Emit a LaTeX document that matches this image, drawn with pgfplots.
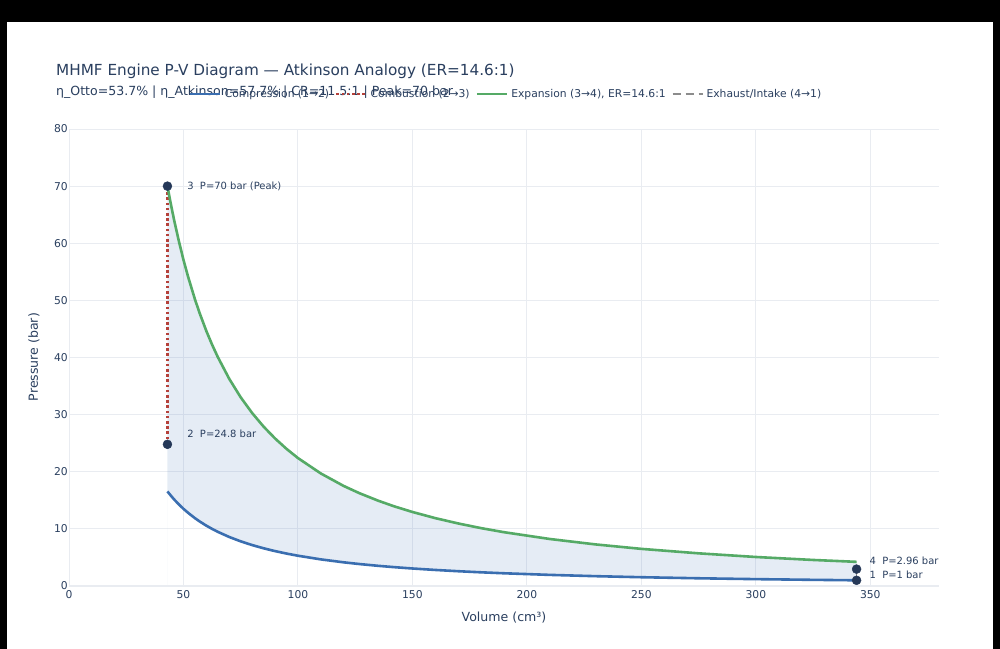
\documentclass[border=0pt]{standalone}
\usepackage{fontspec}
\setmainfont{DejaVu Sans}
\usepackage{pgfplots}
\pgfplotsset{compat=1.18}
\definecolor{txt}{HTML}{2A3F5F}
\definecolor{gridc}{HTML}{E9ECF1}
\definecolor{cblue}{HTML}{3A6EB0}
\definecolor{cred}{HTML}{B5413A}
\definecolor{cgreen}{HTML}{55AA66}
\definecolor{cgray}{HTML}{8C8C8C}
\definecolor{cnavy}{HTML}{253858}
\definecolor{cfill}{HTML}{3C6EB4}

\pgfplotstableread{
V P
43 16.56
44 16.06
45 15.58
46 15.12
48 14.28
50 13.51
52 12.82
55 11.88
57 11.32
60 10.56
62.5 9.998
65 9.483
70 8.580
75 7.817
80 7.165
85 6.602
90 6.111
95 5.681
100 5.301
110 4.661
120 4.144
127 3.839
135 3.535
142 3.302
150 3.066
160 2.811
170 2.590
180 2.397
190 2.229
210 1.947
230 1.722
250 1.539
275 1.353
300 1.203
325 1.080
344 1.000
}\compression

\pgfplotstableread{
V P
43 70.00
44 67.87
45 65.84
46 63.90
48 60.35
50 57.09
52 54.16
55 50.20
57 47.84
60 44.63
62.5 42.25
65 40.08
70 36.26
75 33.03
80 30.28
85 27.90
90 25.83
95 24.01
100 22.40
110 19.70
120 17.51
127 16.22
135 14.94
142 13.95
150 12.96
160 11.88
170 10.95
180 10.13
190 9.42
210 8.23
230 7.28
250 6.50
275 5.72
300 5.08
325 4.56
344 4.23
}\expansion

\begin{document}
\begin{tikzpicture}
\useasboundingbox (0,0) rectangle (1000bp,-649bp);
\fill[black] (0,0) rectangle (1000bp,-649bp);
\fill[white] (7bp,-22bp) rectangle (993bp,-649bp);
\node[anchor=base west, inner sep=0, text=txt, font=\fontsize{15.3}{18}\selectfont] at (56bp,-75.5bp) {MHMF Engine P-V Diagram — Atkinson Analogy (ER=14.6:1)};
\node[anchor=base west, inner sep=0, text=txt, font=\fontsize{12.6}{15}\selectfont] at (56bp,-95.8bp) {η\_Otto=53.7\% | η\_Atkinson=57.7\% | CR=11.5:1 | Peak=70 bar};
\begin{axis}[
  at={(69bp,-586bp)}, anchor=south west, scale only axis,
  width=870bp, height=457bp,
  xmin=0, xmax=380, ymin=0, ymax=80,
  xtick={0,50,...,350}, ytick={0,10,...,80},
  grid=major, major grid style={draw=gridc, line width=1bp},
  axis line style={draw=none}, major tick length=0,
  ticklabel style={font=\fontsize{10.8}{13}\selectfont, text=txt},
  /pgf/number format/assume math mode=true,
  xticklabel style={anchor=north, inner sep=0pt, yshift=-4bp},
  yticklabel style={anchor=east, inner sep=0pt, xshift=-1bp},
  xlabel={Volume (cm³)}, ylabel={Pressure (bar)},
  xlabel style={at={(axis description cs:0.5,-0.070)}, anchor=center, font=\fontsize{12.6}{15}\selectfont, text=txt},
  ylabel style={at={(axis description cs:-0.0402,0.501)}, anchor=center, font=\fontsize{12.6}{15}\selectfont, text=txt},
  legend columns=4,
  legend style={at={(0.1379,1.0766)}, anchor=west, draw=none, fill=none, inner sep=0pt,
    font=\fontsize{10.8}{13}\selectfont, text=txt,
    nodes={inner sep=0pt},
    /tikz/every odd column/.append style={column sep=3bp},
    /tikz/every even column/.append style={column sep=6bp}},
  legend image code/.code={\draw[#1] (0bp,0bp) -- (30bp,0bp);},
]
% shaded cycle area: expansion curve forward, compression curve backward
\addplot[forget plot, draw=none, fill=cfill, fill opacity=0.13] coordinates {
(43,70.00) (44,67.87) (45,65.84) (46,63.90) (48,60.35) (50,57.09) (52,54.16) (55,50.20) (57,47.84) (60,44.63) (62.5,42.25) (65,40.08) (70,36.26) (75,33.03) (80,30.28) (85,27.90) (90,25.83) (95,24.01) (100,22.40) (110,19.70) (120,17.51) (127,16.22) (135,14.94) (142,13.95) (150,12.96) (160,11.88) (170,10.95) (180,10.13) (190,9.42) (210,8.23) (230,7.28) (250,6.50) (275,5.72) (300,5.08) (325,4.56) (344,4.23)
(344,1.000) (325,1.080) (300,1.203) (275,1.353) (250,1.539) (230,1.722) (210,1.947) (190,2.229) (180,2.397) (170,2.590) (160,2.811) (150,3.066) (142,3.302) (135,3.535) (127,3.839) (120,4.144) (110,4.661) (100,5.301) (95,5.681) (90,6.111) (85,6.602) (80,7.165) (75,7.817) (70,8.580) (65,9.483) (62.5,9.998) (60,10.56) (57,11.32) (55,11.88) (52,12.82) (50,13.51) (48,14.28) (46,15.12) (45,15.58) (44,16.06) (43,16.56)} \closedcycle;
\draw[gridc, line width=2bp] (axis cs:0,0) -- (axis cs:380,0);
\draw[gridc, line width=2bp] (axis cs:0,0) -- (axis cs:0,80);
\addplot[cblue, line width=2.6bp, line join=round] table[x=V,y=P] {\compression};
\addlegendentry{Compression (1→2)}
\addplot[cred, line width=2.6bp, dash pattern=on 2.6bp off 2.6bp] coordinates {(43,24.8) (43,70)};
\addlegendentry{Combustion (2→3)}
\addplot[cgreen, line width=2.6bp, line join=round] table[x=V,y=P] {\expansion};
\addlegendentry{Expansion (3→4), ER=14.6:1}
\addplot[cgray, line width=1.8bp, dash pattern=on 8bp off 5bp] coordinates {(344,2.96) (344,1)};
\addlegendentry{Exhaust/Intake (4→1)}
\addplot[forget plot, only marks, mark=*, mark size=4.5bp, mark options={fill=cnavy, draw=cnavy}] coordinates {(43,70) (43,24.8) (344,2.96) (344,1)};
\node[anchor=west, inner sep=0, text=txt, font=\fontsize{10}{12}\selectfont] at (axis cs:51.6,70) {3\ \ P=70 bar (Peak)};
\node[anchor=west, inner sep=0, text=txt, font=\fontsize{10}{12}\selectfont] at (axis cs:51.6,26.7) {2\ \ P=24.8 bar};
\node[anchor=west, inner sep=0, text=txt, font=\fontsize{10}{12}\selectfont] at (axis cs:349.6,4.38) {4\ \ P=2.96 bar};
\node[anchor=west, inner sep=0, text=txt, font=\fontsize{10}{12}\selectfont] at (axis cs:349.6,1.93) {1\ \ P=1 bar};
\end{axis}
\end{tikzpicture}
\end{document}
